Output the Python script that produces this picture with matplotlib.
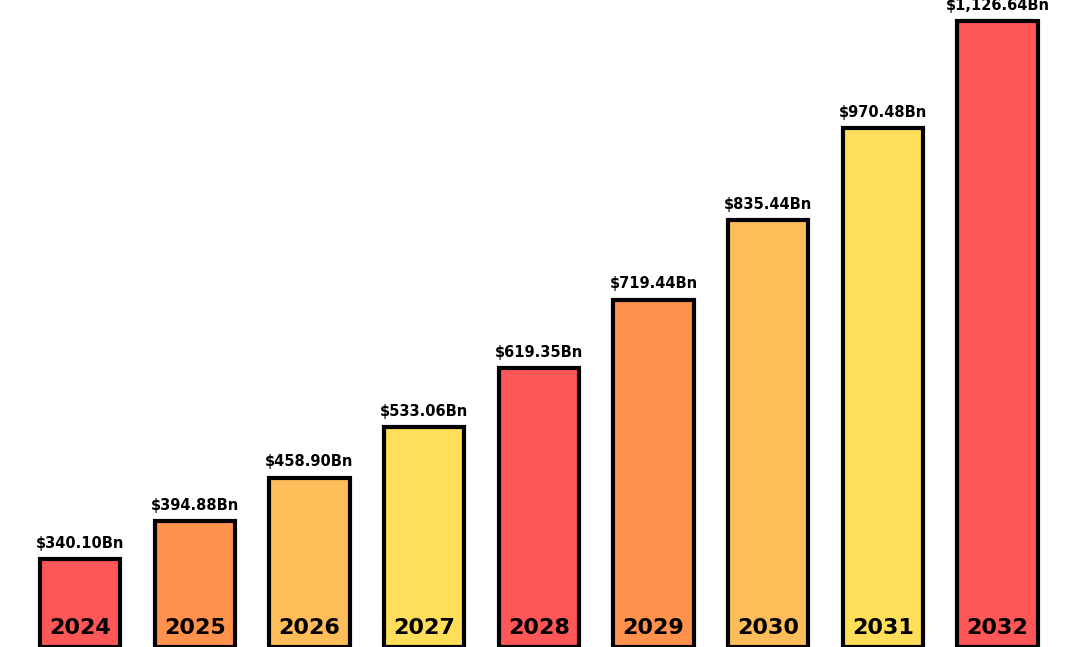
import matplotlib.pyplot as plt

years = ['2024', '2025', '2026', '2027', '2028', '2029', '2030', '2031', '2032']
values = [340.10, 394.88, 458.90, 533.06, 619.35, 719.44, 835.44, 970.48, 1126.64]
value_labels = ['$340.10Bn', '$394.88Bn', '$458.90Bn', '$533.06Bn', '$619.35Bn',
                '$719.44Bn', '$835.44Bn', '$970.48Bn', '$1,126.64Bn']
colors = ['#FF5757', '#FF914D', '#FFBD59', '#FFDE59', '#FF5757',
          '#FF914D', '#FFBD59', '#FFDE59', '#FF5757']

base = 211
fig = plt.figure(figsize=(10.8, 6.47), dpi=100)
ax = fig.add_axes([0, 0, 1, 1])
x = list(range(len(years)))
ax.bar(x, [v - base for v in values], bottom=base, width=0.7, color=colors,
       edgecolor='black', linewidth=3)
for i in x:
    ax.text(i, values[i] + 12, value_labels[i], ha='center', va='bottom',
            fontsize=10.5, fontweight='bold', family='DejaVu Sans')
    ax.text(i, base + 28, years[i], ha='center', va='center',
            fontsize=16, fontweight='bold', family='DejaVu Sans')
ax.set_xlim(-0.7, 8.72)
ax.set_ylim(base, 1158)
ax.axis('off')
fig.savefig('out.png', dpi=100)
